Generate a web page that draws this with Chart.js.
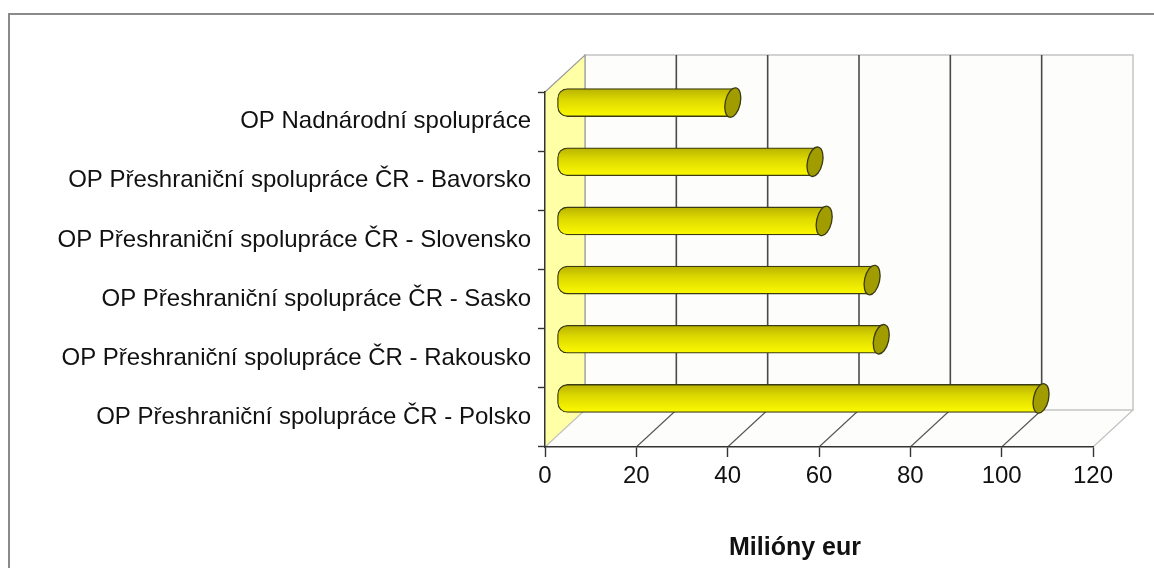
<html>
<head>
    <meta charset="utf-8">
    <title>OP spolupráce</title>
    <script src="https://cdn.jsdelivr.net/npm/chart.js"></script>
    <style>
        body { margin: 0; background: #ffffff; }
        #wrap { position: relative; width: 1154px; height: 568px; overflow: hidden; }
        #frame { position: absolute; left: 8px; top: 13px; right: -4px; bottom: -4px;
                 border-top: 2px solid #8a8a8a; border-left: 2px solid #8a8a8a; }
        canvas { position: absolute; left: 0; top: 0; }
    </style>
</head>
<body>
<div id="wrap">
    <div id="frame"></div>
    <canvas id="programmes" width="1154" height="568"></canvas>
</div>
<script>
    // data
    const programmes = [
        "OP Nadnárodní spolupráce",
        "OP Přeshraniční spolupráce ČR - Bavorsko",
        "OP Přeshraniční spolupráce ČR - Slovensko",
        "OP Přeshraniční spolupráce ČR - Sasko",
        "OP Přeshraniční spolupráce ČR - Rakousko",
        "OP Přeshraniční spolupráce ČR - Polsko"
    ];
    const allocation = [38.5, 56.5, 58.5, 69, 71, 106];
    const xTicks = [0, 20, 40, 60, 80, 100, 120];
    const axisTitle = "Milióny eur";

    const font = "'Liberation Sans', Arial, Helvetica, sans-serif";
    const depth = { dx: 40, dy: -37 };   // back wall offset
    const lift = { dx: 12, dy: -19 };    // bars sit half way in

    // fake 3d box: back wall, left wall, floor
    const box3d = {
        id: 'box3d',
        beforeDraw(chart) {
            const { ctx, chartArea: a, scales: { x } } = chart;
            const { dx, dy } = depth;
            ctx.save();
            ctx.fillStyle = '#fdfefc';
            ctx.fillRect(a.left + dx, a.top + dy, a.width, a.height);

            // floor
            ctx.beginPath();
            ctx.moveTo(a.left, a.bottom);
            ctx.lineTo(a.right, a.bottom);
            ctx.lineTo(a.right + dx, a.bottom + dy);
            ctx.lineTo(a.left + dx, a.bottom + dy);
            ctx.closePath();
            ctx.fillStyle = '#fdfefc';
            ctx.fill();

            // outline of back wall
            ctx.strokeStyle = '#c4c4c4';
            ctx.lineWidth = 1.5;
            ctx.strokeRect(a.left + dx, a.top + dy, a.width, a.height);

            // left wall
            ctx.beginPath();
            ctx.moveTo(a.left, a.top);
            ctx.lineTo(a.left + dx, a.top + dy);
            ctx.lineTo(a.left + dx, a.bottom + dy);
            ctx.lineTo(a.left, a.bottom);
            ctx.closePath();
            ctx.fillStyle = '#ffffa6';
            ctx.fill();
            ctx.beginPath();
            ctx.moveTo(a.left, a.top);
            ctx.lineTo(a.left + dx, a.top + dy);
            ctx.lineTo(a.left + dx, a.bottom + dy);
            ctx.strokeStyle = '#9a9a9a';
            ctx.lineWidth = 1.2;
            ctx.stroke();

            // grid on back wall and floor
            xTicks.forEach((v, i) => {
                const px = x.getPixelForValue(v);
                const last = i === xTicks.length - 1;
                if (i > 0 && !last) {
                    ctx.beginPath();
                    ctx.moveTo(px + dx, a.top + dy);
                    ctx.lineTo(px + dx, a.bottom + dy);
                    ctx.strokeStyle = '#4a4a4a';
                    ctx.lineWidth = 1.6;
                    ctx.stroke();
                }
                ctx.beginPath();
                ctx.moveTo(px, a.bottom);
                ctx.lineTo(px + dx, a.bottom + dy);
                ctx.strokeStyle = (i === 0 || last) ? '#c0c0c0' : '#555555';
                ctx.lineWidth = 1.1;
                ctx.stroke();
            });
            ctx.restore();
        },
        beforeDatasetsDraw(chart) {
            chart.ctx.save();
            chart.ctx.translate(lift.dx, lift.dy);
        },
        afterDatasetsDraw(chart) {
            const ctx = chart.ctx;
            chart.getDatasetMeta(0).data.forEach(bar => {
                ctx.beginPath();
                ctx.ellipse(bar.x, bar.y, 7.5, 15, 0.22, 0, Math.PI * 2);
                ctx.fillStyle = '#a19c00';
                ctx.fill();
                ctx.strokeStyle = '#3a3a14';
                ctx.lineWidth = 1.3;
                ctx.stroke();
            });
            ctx.restore();
        },
        afterDraw(chart) {
            // axis title sits a bit left of the axis centre in the original
            const { ctx, chartArea: a } = chart;
            ctx.save();
            ctx.font = `bold 25px ${font}`;
            ctx.fillStyle = '#111';
            ctx.textAlign = 'center';
            ctx.textBaseline = 'middle';
            ctx.fillText(axisTitle, (a.left + a.right) / 2 - 24, a.bottom + 101);
            ctx.restore();
        }
    };

    function tubeFill(c) {
        const chart = c.chart;
        const y = chart.scales.y;
        const mid = y ? y.getPixelForValue(c.dataIndex) : NaN;
        if (!isFinite(mid)) return '#e8e400';
        const g = chart.ctx.createLinearGradient(0, mid - 14, 0, mid + 14);
        g.addColorStop(0, '#b8b200');
        g.addColorStop(0.4, '#dcd800');
        g.addColorStop(1, '#fdfa00');
        return g;
    }

    new Chart(document.getElementById('programmes'), {
        type: 'bar',
        data: {
            labels: programmes,
            datasets: [{
                data: allocation,
                backgroundColor: tubeFill,
                borderColor: '#3a3a14',
                borderWidth: 1.3,
                borderSkipped: false,
                borderRadius: { topLeft: 10, bottomLeft: 10, topRight: 0, bottomRight: 0 },
                barThickness: 28,
                clip: false
            }]
        },
        options: {
            indexAxis: 'y',
            responsive: false,
            animation: false,
            devicePixelRatio: 1,
            layout: { padding: { top: 92, right: 61, left: 0, bottom: 0 } },
            plugins: {
                legend: { display: false },
                tooltip: { enabled: false }
            },
            scales: {
                y: {
                    afterFit: s => { s.width = 545; },
                    grid: { drawOnChartArea: false, tickLength: 7, tickColor: '#333', tickWidth: 1.4 },
                    border: { display: true, color: '#333', width: 1.5 },
                    ticks: { color: '#111', padding: 7, font: { family: font, size: 24 } }
                },
                x: {
                    min: 0,
                    max: 120,
                    afterFit: s => { s.height = 121; },
                    afterBuildTicks: s => { s.ticks = xTicks.map(v => ({ value: v })); },
                    grid: { drawOnChartArea: false, tickLength: 10, tickColor: '#333', tickWidth: 1.4 },
                    border: { display: true, color: '#333', width: 1.5 },
                    ticks: { color: '#111', padding: 5, font: { family: font, size: 24 } }
                }
            }
        },
        plugins: [box3d]
    });
</script>
</body>
</html>
